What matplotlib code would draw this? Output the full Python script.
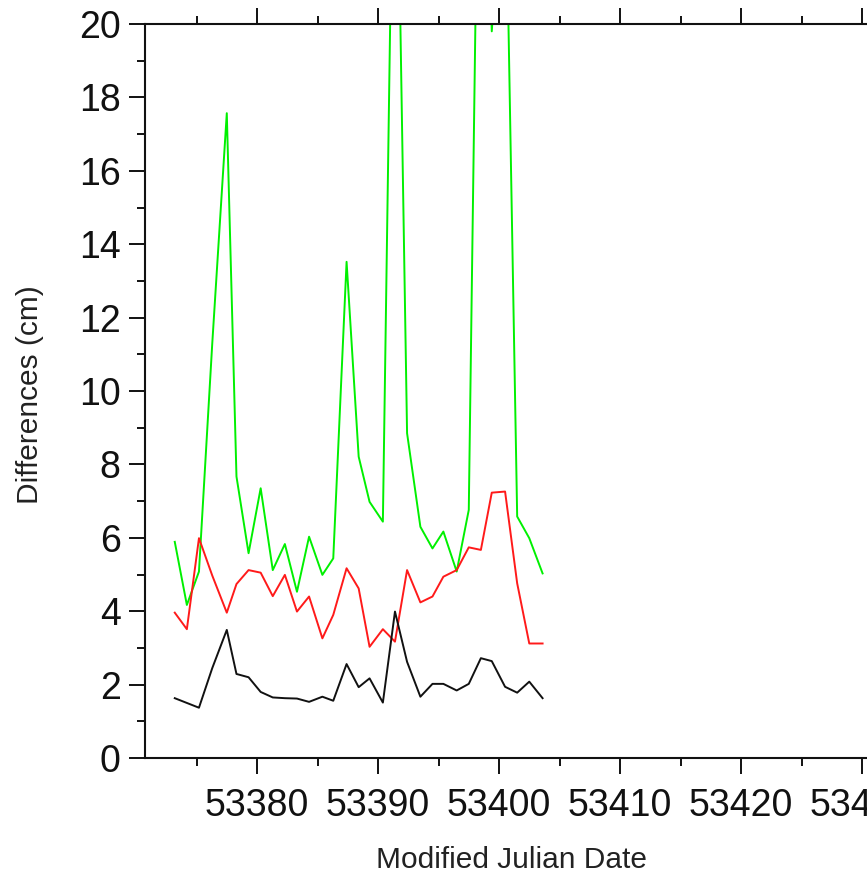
import matplotlib
matplotlib.use('Agg')
import matplotlib.pyplot as plt
from matplotlib.ticker import MultipleLocator

plt.rcParams['font.family'] = ['Liberation Sans', 'DejaVu Sans']

# ---- data ----
mjd = [53373.2, 53374.2, 53375.2, 53376.3, 53377.5, 53378.3, 53379.3, 53380.3,
       53381.3, 53382.3, 53383.3, 53384.3, 53385.4, 53386.3, 53387.4, 53388.4,
       53389.3, 53390.4, 53391.4, 53392.4, 53393.5, 53394.5, 53395.4, 53396.5,
       53397.5, 53398.5, 53399.4, 53400.5, 53401.5, 53402.5, 53403.6]

diff_green = [5.89, 4.17, 5.08, 11.3, 17.57, 7.67, 5.58, 7.35, 5.12, 5.83, 4.53,
              6.03, 4.99, 5.44, 13.52, 8.21, 6.98, 6.44, 29.0, 8.85, 6.30, 5.71,
              6.17, 5.08, 6.76, 31.0, 19.8, 25.2, 6.58, 5.99, 5.03]

diff_red = [3.96, 3.51, 5.99, 4.97, 3.96, 4.74, 5.12, 5.05, 4.41, 4.99, 3.99,
            4.40, 3.26, 3.90, 5.17, 4.62, 3.03, 3.51, 3.17, 5.12, 4.24, 4.40,
            4.94, 5.12, 5.74, 5.67, 7.23, 7.26, 4.76, 3.12, 3.12]

diff_black = [1.63, 1.50, 1.37, 2.45, 3.49, 2.29, 2.20, 1.80, 1.65, 1.63, 1.62,
              1.53, 1.67, 1.56, 2.56, 1.93, 2.17, 1.51, 3.99, 2.62, 1.67, 2.02,
              2.02, 1.84, 2.02, 2.72, 2.64, 1.94, 1.78, 2.08, 1.63]

# ---- figure ----
fig = plt.figure(figsize=(8.67, 8.75), dpi=100)
# axes runs off the right edge of the image (the reference is cropped there)
ax = fig.add_axes([145 / 867, 117 / 875, 838 / 867, 734 / 875])

ax.plot(mjd, diff_green, color='#00f000', lw=1.4)
ax.plot(mjd, diff_red, color='#ff1a1a', lw=1.4)
ax.plot(mjd, diff_black, color='#111111', lw=1.4)

ax.set_xlim(53370.74, 53440)
ax.set_ylim(0, 20)

ax.xaxis.set_major_locator(MultipleLocator(10))
ax.xaxis.set_minor_locator(MultipleLocator(5))
ax.yaxis.set_major_locator(MultipleLocator(2))
ax.yaxis.set_minor_locator(MultipleLocator(1))

ax.tick_params(which='both', direction='out', top=True, right=False,
               labeltop=False, width=1.4, color='#111111')
ax.tick_params(which='major', length=11.5, labelsize=27, labelcolor='#111111')
ax.tick_params(which='minor', length=6)
ax.tick_params(axis='x', which='major', pad=10)
ax.tick_params(axis='y', which='major', pad=6)

for side in ['left', 'bottom', 'top']:
    ax.spines[side].set_linewidth(1.5)
    ax.spines[side].set_color('#111111')
ax.spines['right'].set_visible(False)

ax.set_xlabel('Modified Julian Date', fontsize=21.5, color='#222222')
ax.set_ylabel('Differences (cm)', fontsize=21.5, color='#222222')
ax.xaxis.label.set_va('center')
ax.yaxis.label.set_va('center')
ax.xaxis.set_label_coords((512 - 145) / 838, (758 - 860) / 734)
ax.yaxis.set_label_coords((30 - 145) / 838, (758 - 395) / 734)

fig.savefig('out.png', dpi=100)
